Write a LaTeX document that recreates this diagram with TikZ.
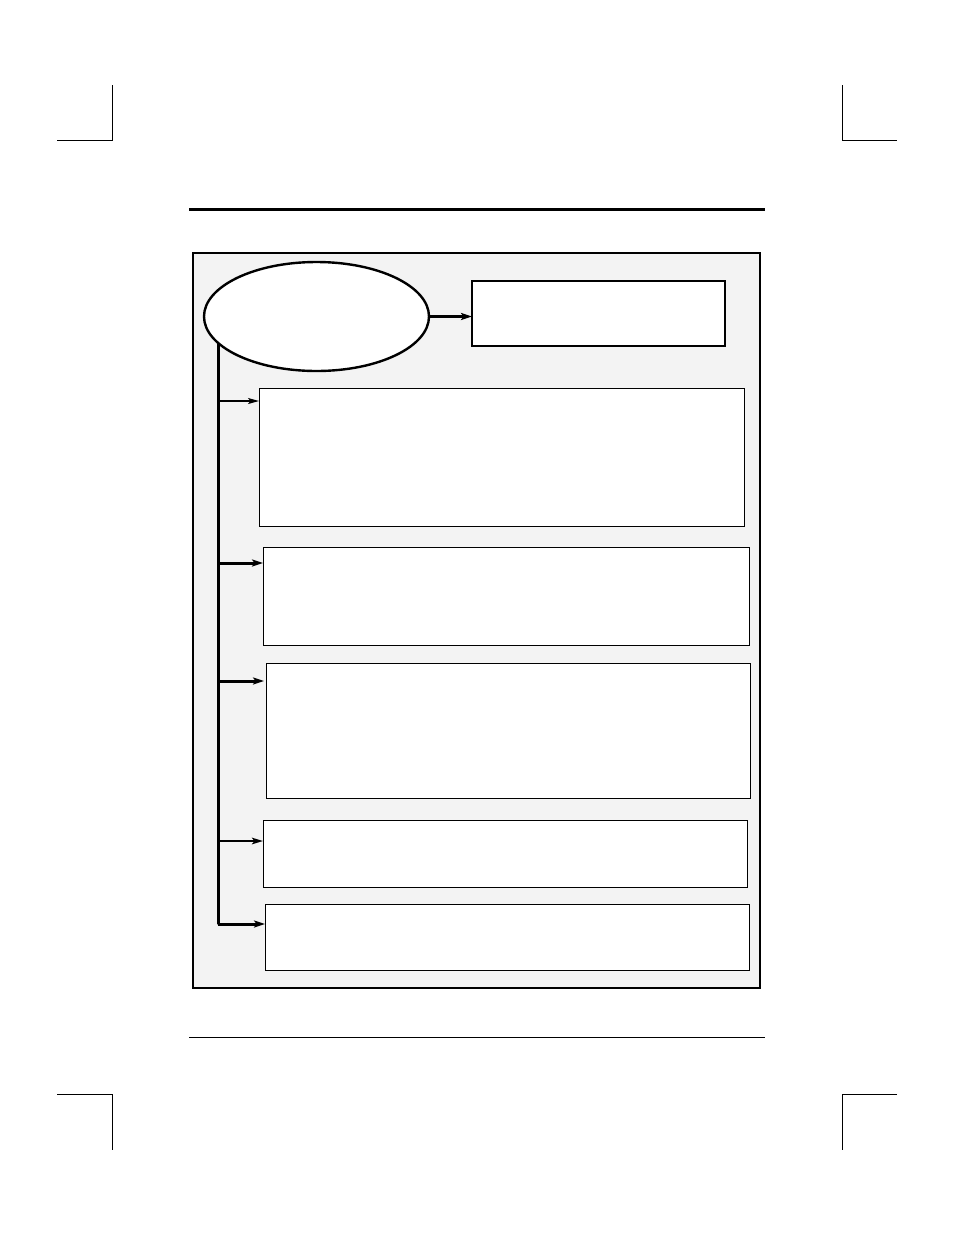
\documentclass[tikz,border=0pt]{standalone}
\usepackage{tikz}
\usetikzlibrary{shapes, arrows.meta, positioning}
\definecolor{panelgray}{RGB}{243,243,243}

\begin{document}
\begin{tikzpicture}
[
    x = 1pt, y = -1pt,
    every node/.style = {inner sep = 0pt, outer sep = 0pt},
    BoxStyle/.style = {draw, rectangle, fill = white, line width = 1pt, anchor = north west},
    HeadStyle/.style = {draw, ellipse, fill = white, line width = 2.4pt,
                        minimum width = 225pt, minimum height = 109pt},
    ThinBranch/.style = {line width = 1.5pt, -{Stealth[length=11pt, width=6pt, inset=2.5pt]}},
    MidBranch/.style = {line width = 2.2pt, -{Stealth[length=11pt, width=6.5pt, inset=2.5pt]}},
    ThickBranch/.style = {line width = 3pt, -{Stealth[length=11pt, width=7pt, inset=2.5pt]}},
    CropStyle/.style = {line width = 1pt}
  ]
  \useasboundingbox (0,0) rectangle (954,1235);

  % crop marks
  \draw[CropStyle] (112,85) -- (112,140) -- (57,140);
  \draw[CropStyle] (842,85) -- (842,140) -- (897,140);
  \draw[CropStyle] (57,1094) -- (112,1094) -- (112,1150);
  \draw[CropStyle] (897,1094) -- (842,1094) -- (842,1150);

  % rules
  \draw[line width = 3pt] (189,209) -- (765,209);
  \draw[line width = 1pt] (189,1037) -- (765,1037);

  % panel
  \draw[line width = 1.4pt, fill = panelgray] (193,253) rectangle (760,988);

  \node[HeadStyle] (head) at (316.5,316.5) {};
  \node[BoxStyle, line width = 2.4pt, minimum width = 253pt, minimum height = 65pt] (out) at (472,281) {};

  \node[BoxStyle, minimum width = 485pt, minimum height = 138pt] (b1) at (259,388) {};
  \node[BoxStyle, minimum width = 486pt, minimum height = 98pt] (b2) at (263,547) {};
  \node[BoxStyle, minimum width = 484pt, minimum height = 135pt] (b3) at (266,663) {};
  \node[BoxStyle, minimum width = 484pt, minimum height = 67pt] (b4) at (263,820) {};
  \node[BoxStyle, minimum width = 484pt, minimum height = 66pt] (b5) at (265,904) {};

  \draw[ThickBranch] (head.east) -- (head.east -| out.west);

  % trunk and branches
  \coordinate (j1) at (218,401);
  \coordinate (j2) at (218,563);
  \coordinate (j3) at (218,681);
  \coordinate (j4) at (218,841);
  \coordinate (j5) at (218,924);

  \draw[line width = 3pt] (head.195) -- (head.195 |- j5) -- (j5);
  \draw[ThinBranch] (j1) -- (j1 -| b1.west);
  \draw[ThickBranch] (j2) -- (j2 -| b2.west);
  \draw[ThickBranch] (j3) -- ([xshift=-2pt]j3 -| b3.west);
  \draw[MidBranch] (j4) -- (j4 -| b4.west);
  \draw[ThickBranch] (j5) -- (j5 -| b5.west);
\end{tikzpicture}
\end{document}
